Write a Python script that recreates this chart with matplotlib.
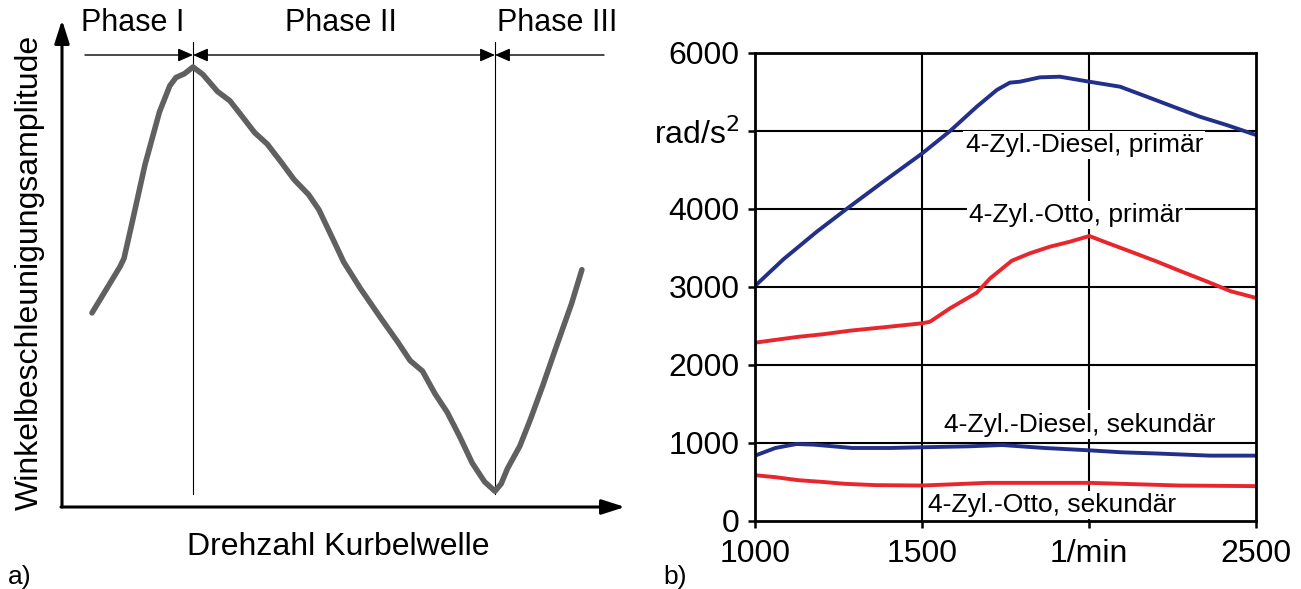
import matplotlib
matplotlib.use("Agg")
import matplotlib.pyplot as plt

plt.rcParams['font.family'] = ['Liberation Sans', 'DejaVu Sans']

# ---------------- data: panel a) (schematic, arbitrary units) ----------------
a_x = [30, 58, 62, 70.5, 83, 97.4, 107.8, 114, 122.3, 131, 140.9, 155.4, 167.9,
       178.2, 192.7, 205.2, 219.6, 232.1, 246.6, 256.9, 269.4, 281.8, 298.4,
       319.1, 335.6, 348.1, 360.5, 372.9, 385.3, 397.8, 410.2, 422.6, 433,
       439.2, 445.4, 457.8, 468.2, 480.6, 493, 509.6, 519.9]
a_y = [194.1, 240.3, 248.6, 286.1, 342.4, 394.9, 421.2, 429.5, 433.2, 440,
       432.5, 415.6, 406.2, 393.1, 374.3, 363, 344.3, 327.4, 312.4, 297.3,
       271.1, 244.8, 218.5, 188.5, 165.2, 146.4, 135.9, 113.4, 94.6, 70.2,
       44, 25.2, 15.8, 23.3, 38.3, 60.9, 87.1, 120.9, 156.6, 203.5, 237.3]
phase_bounds = [131, 433]
phase_labels = ["Phase I", "Phase II", "Phase III"]
phase_label_x = [71, 279, 495]

# ---------------- data: panel b) ----------------
diesel_p_x = [1000, 1085, 1185, 1274, 1384, 1501, 1584, 1664, 1724, 1763, 1793,
              1853, 1913, 2001, 2093, 2173, 2252, 2332, 2412, 2500]
diesel_p_y = [3013, 3355, 3709, 4000, 4350, 4714, 5000, 5312, 5526, 5620, 5632,
              5688, 5696, 5632, 5568, 5440, 5312, 5183, 5077, 4949]

otto_p_x = [1000, 1056, 1131, 1205, 1284, 1384, 1501, 1524, 1584, 1664, 1704,
            1769, 1823, 1883, 1943, 2001, 2052, 2127, 2201, 2276, 2351, 2425,
            2500]
otto_p_y = [2286, 2319, 2362, 2395, 2440, 2483, 2535, 2555, 2727, 2927, 3111,
            3337, 3432, 3517, 3581, 3654, 3570, 3450, 3330, 3200, 3074, 2945,
            2860]

diesel_s_x = [1000, 1061, 1124, 1176, 1291, 1406, 1498, 1637, 1740, 1867, 2001,
              2097, 2212, 2362, 2500]
diesel_s_y = [838, 936, 987, 979, 936, 936, 945, 957, 974, 936, 906, 881, 864,
              838, 838]

otto_s_x = [1000, 1061, 1130, 1199, 1268, 1360, 1498, 1579, 1694, 1867, 2001,
            2097, 2270, 2500]
otto_s_y = [587, 562, 523, 502, 477, 460, 455, 468, 489, 489, 489, 477, 455,
            447]

series_labels = ["4-Zyl.-Diesel, primär", "4-Zyl.-Otto, primär",
                 "4-Zyl.-Diesel, sekundär", "4-Zyl.-Otto, sekundär"]
label_pos = [(1986, 4820), (1961, 3923), (1973, 1236), (1889, 205)]

x_ticks = [1000, 1500, 2000, 2500]
x_ticklabels = ["1000", "1500", "1/min", "2500"]
y_ticks = [0, 1000, 2000, 3000, 4000, 5000, 6000]
y_ticklabels = ["0", "1000", "2000", "3000", "4000", "rad/s$^2$", "6000"]

BLUE = "#23308a"
RED = "#e8262d"
GRAY = "#606060"

W, H = 1301, 589
fig = plt.figure(figsize=(W / 100, H / 100), dpi=100)


def frac(px, py):
    return px / W, 1 - py / H

# ---------------- panel a) ----------------
l, b = frac(62, 507)
r, t = frac(625, 20)
axa = fig.add_axes([l, b, r - l, t - b])
axa.set_xlim(0, 563)
axa.set_ylim(0, 487)
axa.set_axis_off()

axa.plot(a_x, a_y, color=GRAY, lw=4.0, solid_capstyle='round',
         solid_joinstyle='round', zorder=3)

ax_arrow = dict(arrowstyle='-|>,head_length=0.5,head_width=0.16',
                mutation_scale=28, lw=2.2, color='black',
                shrinkA=0, shrinkB=0)
axa.annotate("", xy=(0, 487), xytext=(0, 0), arrowprops=ax_arrow,
             annotation_clip=False)
axa.annotate("", xy=(563, 0), xytext=(-1, 0), arrowprops=ax_arrow,
             annotation_clip=False)

for xb in phase_bounds:
    axa.plot([xb, xb], [13, 465], color='black', lw=0.8, zorder=2)

ph_y = 452
head = 'head_length=0.5,head_width=0.22'
axa.annotate("", xy=(phase_bounds[0], ph_y), xytext=(23, ph_y),
             arrowprops=dict(arrowstyle='-|>,' + head,
                             mutation_scale=18, lw=1.0, color='black',
                             shrinkA=0, shrinkB=0), annotation_clip=False)
axa.annotate("", xy=(phase_bounds[1], ph_y), xytext=(phase_bounds[0], ph_y),
             arrowprops=dict(arrowstyle='<|-|>,' + head,
                             mutation_scale=18, lw=1.0, color='black',
                             shrinkA=0, shrinkB=0), annotation_clip=False)
axa.annotate("", xy=(phase_bounds[1], ph_y), xytext=(542, ph_y),
             arrowprops=dict(arrowstyle='-|>,' + head,
                             mutation_scale=18, lw=1.0, color='black',
                             shrinkA=0, shrinkB=0), annotation_clip=False)

for lab, xl in zip(phase_labels, phase_label_x):
    axa.text(xl, 507 - 23, lab, ha='center', va='center', fontsize=22,
             clip_on=False)

axa.text(-32, 507 - 272, "Winkelbeschleunigungsamplitude", rotation=90,
         ha='center', va='center', fontsize=23, clip_on=False)
axa.text(338 - 62, 507 - 547, "Drehzahl Kurbelwelle", ha='center',
         va='center', fontsize=23, clip_on=False)
fig.text(8 / W, 1 - 577 / H, "a)", ha='left', va='center', fontsize=19)

# ---------------- panel b) ----------------
l, b = frac(755, 521)
r, t = frac(1256, 53)
axb = fig.add_axes([l, b, r - l, t - b])
axb.set_xlim(1000, 2500)
axb.set_ylim(0, 6000)

for yv in y_ticks[1:-1]:
    axb.axhline(yv, color='black', lw=1.5, zorder=1)
for xv in x_ticks[1:-1]:
    axb.axvline(xv, color='black', lw=1.5, zorder=1)

for xs, ys, c in [(diesel_p_x, diesel_p_y, BLUE), (otto_p_x, otto_p_y, RED),
                  (diesel_s_x, diesel_s_y, BLUE), (otto_s_x, otto_s_y, RED)]:
    axb.plot(xs, ys, color=c, lw=2.8, zorder=4, solid_joinstyle='round')

for lab, (xl, yl) in zip(series_labels, label_pos):
    axb.text(xl, yl, lab, ha='center', va='center', fontsize=19, zorder=3,
             bbox=dict(facecolor='white', edgecolor='none', pad=1.5))

axb.set_xticks(x_ticks)
axb.set_xticklabels(x_ticklabels)
axb.set_yticks(y_ticks)
axb.set_yticklabels(y_ticklabels)
axb.tick_params(axis='both', direction='out', length=5, width=1.8,
                labelsize=23)
axb.tick_params(axis='y', pad=6)
axb.tick_params(axis='x', pad=8)
for sp in axb.spines.values():
    sp.set_linewidth(2.0)
    sp.set_zorder(5)

fig.text(663 / W, 1 - 577 / H, "b)", ha='left', va='center', fontsize=19)

fig.savefig("out.png", dpi=100)
